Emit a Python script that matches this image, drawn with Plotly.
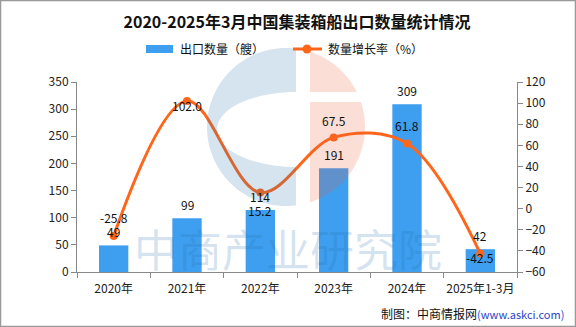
import numpy as np
import plotly.graph_objects as go

# ---------------- data ----------------
categories = ["2020年", "2021年", "2022年", "2023年", "2024年", "2025年1-3月"]
export_count = [49, 99, 114, 191, 309, 42]
growth_rate = [-25.8, 102.0, 15.2, 67.5, 61.8, -42.5]

# label offsets (pixels, + = up) -- styling only
growth_label_shift = [18, -4, -18, 17, 18, -4]
bar_label_shift = 14

title_text = "2020-2025年3月中国集装箱船出口数量统计情况"
bar_name = "出口数量（艘）"
line_name = "数量增长率（%）"

BAR_COLOR = "#3E9EF0"
LINE_COLOR = "#FF661A"
FONT = "Noto Sans CJK SC"

W, H = 576, 327
L, R, T, B = 77, 517, 82, 272  # plot area in pixels


def X(px):
    return (px - L) / (R - L)


def Y(py):
    return (B - py) / (B - T)


fig = go.Figure()
fig.add_trace(go.Bar(
    x=categories, y=export_count, name=bar_name,
    marker=dict(color=BAR_COLOR, line=dict(width=0)),
    width=0.4, showlegend=False,
))
fig.add_trace(go.Scatter(
    x=categories, y=growth_rate, name=line_name, yaxis="y2",
    mode="lines+markers",
    line=dict(color=LINE_COLOR, width=3, shape="spline", smoothing=1.0),
    marker=dict(color=LINE_COLOR, size=8),
    cliponaxis=False, showlegend=False,
))

shapes = []
annotations = []

# value labels
for c, v in zip(categories, export_count):
    annotations.append(dict(text=str(v), x=c, y=v, xref="x", yref="y", showarrow=False,
                            yshift=bar_label_shift, xanchor="center", yanchor="middle",
                            font=dict(size=12, color="#111", family=FONT)))
for c, v, s in zip(categories, growth_rate, growth_label_shift):
    annotations.append(dict(text=f"{v:.1f}", x=c, y=v, xref="x", yref="y2", showarrow=False,
                            yshift=s, xanchor="center", yanchor="middle",
                            font=dict(size=12, color="#111", family=FONT)))


# ---------- watermark logo (decorative) ----------
def circle_pts(cx, cy, r, n=240):
    t = np.linspace(0, 2 * np.pi, n, endpoint=False)
    return list(zip(cx + r * np.cos(t), cy + r * np.sin(t)))


def clip(poly, inside, intersect):
    out = []
    for i in range(len(poly)):
        cur, prev = poly[i], poly[i - 1]
        ci, pi_ = inside(cur), inside(prev)
        if ci:
            if not pi_:
                out.append(intersect(prev, cur))
            out.append(cur)
        elif pi_:
            out.append(intersect(prev, cur))
    return out


def clip_x(poly, x0, keep_less):
    inside = (lambda p: p[0] <= x0) if keep_less else (lambda p: p[0] >= x0)

    def inter(a, b):
        t = (x0 - a[0]) / (b[0] - a[0])
        return (x0, a[1] + t * (b[1] - a[1]))
    return clip(poly, inside, inter)


def clip_y(poly, y0, keep_less):
    inside = (lambda p: p[1] <= y0) if keep_less else (lambda p: p[1] >= y0)

    def inter(a, b):
        t = (y0 - a[1]) / (b[1] - a[1])
        return (a[0] + t * (b[0] - a[0]), y0)
    return clip(poly, inside, inter)


def to_path(polys):
    s = ""
    for poly in polys:
        s += "M " + " L ".join(f"{X(px):.5f},{Y(py):.5f}" for px, py in poly) + " Z "
    return s


cx, cy, r = 286, 127, 79
circ = circle_pts(cx, cy, r)
blue = clip_x(circ, 296, True)
tt = np.linspace(np.pi / 2, 3 * np.pi / 2, 80)
inner = [(296 + 79 * np.cos(a), 129.5 - 37.5 * np.sin(a)) for a in tt]
shapes.append(dict(type="path", xref="paper", yref="paper", path=to_path([blue, inner]),
                   fillcolor="rgba(30,110,170,0.19)", line=dict(width=0),
                   fillrule="evenodd", layer="above"))
peach = clip_x(circ, 310, False)
p_top = clip_y(peach, 92, True)
p_bot = clip_y(peach, 102, False)
shapes.append(dict(type="path", xref="paper", yref="paper", path=to_path([p_top, p_bot]),
                   fillcolor="rgba(235,95,55,0.20)", line=dict(width=0), layer="above"))

annotations.append(dict(text="中商产业研究院", xref="paper", yref="paper", x=X(288), y=Y(248),
                        showarrow=False, font=dict(size=44, color="rgba(30,110,170,0.2)", family=FONT),
                        xanchor="center", yanchor="middle"))

# ---------- manual legend ----------
shapes.append(dict(type="rect", xref="paper", yref="paper", x0=X(146), x1=X(173), y0=Y(53), y1=Y(45),
                   fillcolor=BAR_COLOR, line=dict(width=0)))
shapes.append(dict(type="line", xref="paper", yref="paper", x0=X(293), x1=X(322), y0=Y(49), y1=Y(49),
                   line=dict(color=LINE_COLOR, width=3)))
shapes.append(dict(type="circle", xref="paper", yref="paper", x0=X(302.5), x1=X(311.5), y0=Y(53.5), y1=Y(44.5),
                   fillcolor=LINE_COLOR, line=dict(width=0)))
annotations.append(dict(text=bar_name, xref="paper", yref="paper", x=X(178), y=Y(49),
                        xanchor="left", yanchor="middle", showarrow=False,
                        font=dict(size=12, color="#111", family=FONT)))
annotations.append(dict(text=line_name, xref="paper", yref="paper", x=X(326), y=Y(49),
                        xanchor="left", yanchor="middle", showarrow=False,
                        font=dict(size=12, color="#111", family=FONT)))

# ---------- footer ----------
annotations.append(dict(text="制图：中商情报网<span style='color:#2a45c8;font-size:11px'>(www.askci.com)</span>",
                        xref="paper", yref="paper", x=X(566), y=Y(313),
                        xanchor="right", yanchor="middle", showarrow=False,
                        font=dict(size=12, color="#111", family=FONT)))

# ---------- outer border ----------
shapes.append(dict(type="rect", xref="paper", yref="paper", x0=X(0.5), x1=X(575.5), y0=Y(326.5), y1=Y(0.5),
                   line=dict(color="#999", width=1.5), fillcolor="rgba(0,0,0,0)"))

axis_common = dict(showgrid=False, zeroline=False, showline=True, linecolor="#888", linewidth=1,
                   ticks="outside", ticklen=5, tickcolor="#888", automargin=False,
                   tickfont=dict(size=12, color="#222", family=FONT))

fig.update_layout(
    width=W, height=H,
    margin=dict(l=L, r=W - R, t=T, b=H - B, autoexpand=False),
    paper_bgcolor="white", plot_bgcolor="white",
    title=dict(text=f"<b>{title_text}</b>", x=0.5, xref="paper", xanchor="center",
               y=1 - 22.5 / H, yanchor="middle",
               font=dict(size=16, color="#111", family=FONT)),
    xaxis=dict(**axis_common, type="category", tickson="boundaries", range=[-0.5, 5.5], tickangle=0,
               ticklabelstandoff=6),
    yaxis=dict(**axis_common, range=[0, 350], dtick=50),
    yaxis2=dict(**axis_common, range=[-60, 120], dtick=20, overlaying="y", side="right"),
    shapes=shapes, annotations=annotations,
    showlegend=False,
    bargap=0.6,
)

fig.write_html("out.html")
